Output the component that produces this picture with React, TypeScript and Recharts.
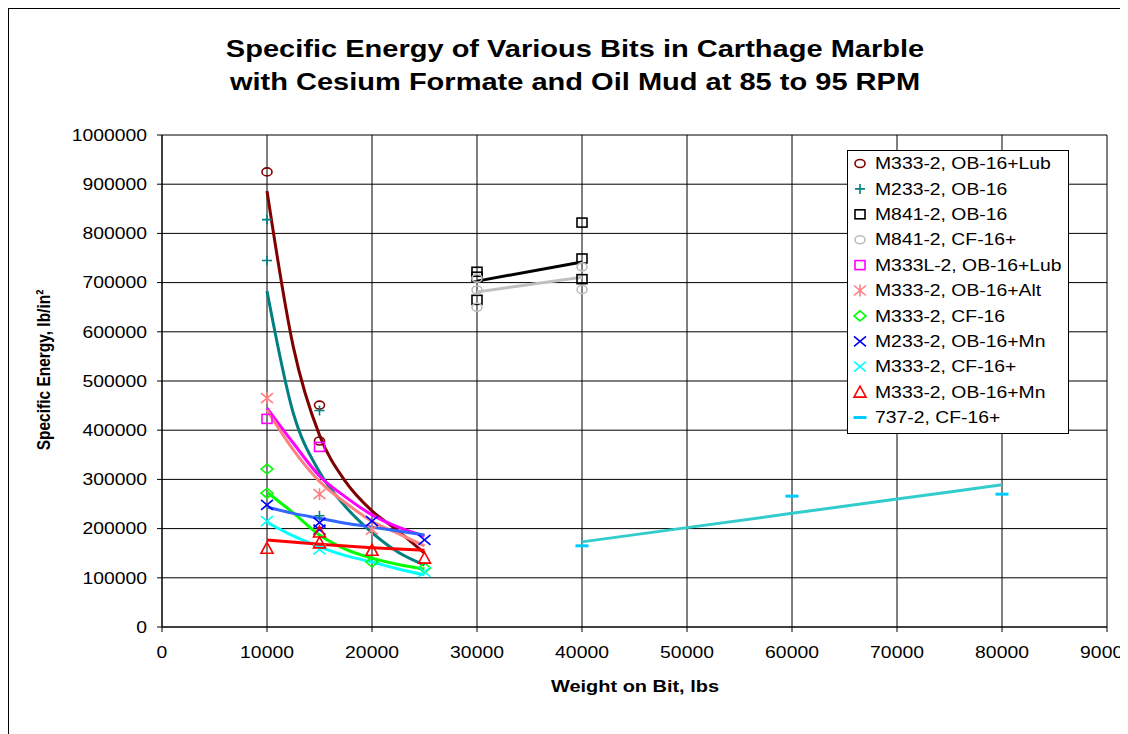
import {
    ComposedChart,
    Line,
    Scatter,
    XAxis,
    YAxis,
    CartesianGrid,
    Legend,
} from "recharts";

const FONT = '"Liberation Sans", Arial, sans-serif';
const SX = 1.21; // the picture is a bit wider than tall, text too

const xTicks = [0, 10000, 20000, 30000, 40000, 50000, 60000, 70000, 80000, 90000];
const yTicks = [0, 100000, 200000, 300000, 400000, 500000, 600000, 700000, 800000, 900000, 1000000];

// measured points (weight on bit, specific energy)
const m333LubPts = [
    { x: 10000, y: 925000 }, { x: 15000, y: 451000 }, { x: 15000, y: 378000 },
];
const m233Pts = [
    { x: 10000, y: 828000 }, { x: 10000, y: 745000 }, { x: 15000, y: 440000 }, { x: 15000, y: 226000 },
];
const m841ObPts = [
    { x: 30000, y: 722000 }, { x: 30000, y: 712000 }, { x: 30000, y: 665000 },
    { x: 40000, y: 822000 }, { x: 40000, y: 749000 }, { x: 40000, y: 707000 },
];
const m841CfPts = [
    { x: 30000, y: 709000 }, { x: 30000, y: 685000 }, { x: 30000, y: 650000 },
    { x: 40000, y: 732000 }, { x: 40000, y: 686000 },
];
const m333LPts = [
    { x: 10000, y: 423000 }, { x: 15000, y: 366000 },
];
const m333AltPts = [
    { x: 10000, y: 465000 }, { x: 15000, y: 270000 }, { x: 20000, y: 198000 },
];
const m333CfPts = [
    { x: 10000, y: 321000 }, { x: 10000, y: 272000 }, { x: 20000, y: 132000 }, { x: 25000, y: 120000 },
];
const m233MnPts = [
    { x: 10000, y: 248000 }, { x: 15000, y: 212000 }, { x: 15000, y: 198000 },
    { x: 20000, y: 215000 }, { x: 25000, y: 177000 },
];
const m333CfpPts = [
    { x: 10000, y: 215000 }, { x: 15000, y: 158000 }, { x: 25000, y: 112000 },
];
const m333MnPts = [
    { x: 10000, y: 160000 }, { x: 15000, y: 193000 }, { x: 15000, y: 171000 },
    { x: 20000, y: 156000 }, { x: 25000, y: 140000 },
];
const b737Pts = [
    { x: 40000, y: 165000 }, { x: 60000, y: 266000 }, { x: 80000, y: 270000 },
];

// trendlines
const m333LubFit = [
    { x: 10000, y: 886000 }, { x: 12500, y: 570000 }, { x: 15000, y: 390000 }, { x: 17500, y: 295000 },
    { x: 20000, y: 236000 }, { x: 22500, y: 195000 }, { x: 25000, y: 150000 },
];
const m233Fit = [
    { x: 10000, y: 683000 }, { x: 12500, y: 435000 }, { x: 15000, y: 315000 }, { x: 17500, y: 244000 },
    { x: 20000, y: 192000 }, { x: 22500, y: 152000 }, { x: 25000, y: 126000 },
];
const m841ObFit = [{ x: 30000, y: 703000 }, { x: 40000, y: 742000 }];
const m841CfFit = [{ x: 30000, y: 681000 }, { x: 40000, y: 711000 }];
const m333LFit = [
    { x: 10000, y: 445000 }, { x: 12500, y: 374000 }, { x: 15000, y: 307000 }, { x: 17500, y: 264000 },
    { x: 20000, y: 228000 }, { x: 22500, y: 203000 }, { x: 25000, y: 185000 },
];
const m333AltFit = [
    { x: 10000, y: 441000 }, { x: 12500, y: 360000 }, { x: 15000, y: 296000 }, { x: 17500, y: 252000 },
    { x: 20000, y: 215000 }, { x: 22500, y: 190000 }, { x: 25000, y: 165000 },
];
const m333CfFit = [
    { x: 10000, y: 274000 }, { x: 12500, y: 232000 }, { x: 15000, y: 187000 }, { x: 17500, y: 158000 },
    { x: 20000, y: 140000 }, { x: 22500, y: 127000 }, { x: 25000, y: 118000 },
];
const m233MnFit = [
    { x: 10000, y: 244000 }, { x: 12500, y: 231000 }, { x: 15000, y: 221000 }, { x: 17500, y: 211000 },
    { x: 20000, y: 203000 }, { x: 22500, y: 195000 }, { x: 25000, y: 187000 },
];
const m333CfpFit = [
    { x: 10000, y: 213000 }, { x: 12500, y: 185000 }, { x: 15000, y: 163000 }, { x: 17500, y: 145000 },
    { x: 20000, y: 132000 }, { x: 22500, y: 118000 }, { x: 25000, y: 106000 },
];
const m333MnFit = [
    { x: 10000, y: 177000 }, { x: 15000, y: 168000 }, { x: 20000, y: 161000 }, { x: 25000, y: 156000 },
];
const b737Fit = [
    { x: 40000, y: 173000 }, { x: 50000, y: 202000 }, { x: 60000, y: 231000 },
    { x: 70000, y: 260000 }, { x: 80000, y: 289000 },
];

const series = [
    { name: "M333-2, OB-16+Lub", marker: "circle", color: "#800000", line: "#800000", pts: m333LubPts, fit: m333LubFit },
    { name: "M233-2, OB-16", marker: "plus", color: "#008080", line: "#008080", pts: m233Pts, fit: m233Fit },
    { name: "M841-2, OB-16", marker: "square", color: "#000000", line: "#000000", pts: m841ObPts, fit: m841ObFit },
    { name: "M841-2, CF-16+", marker: "circle", color: "#BDBDBD", line: "#C0C0C0", pts: m841CfPts, fit: m841CfFit },
    { name: "M333L-2, OB-16+Lub", marker: "square", color: "#FF00FF", line: "#FF00FF", pts: m333LPts, fit: m333LFit },
    { name: "M333-2, OB-16+Alt", marker: "star", color: "#FF8080", line: "#FF8080", pts: m333AltPts, fit: m333AltFit },
    { name: "M333-2, CF-16", marker: "diamond", color: "#00FF00", line: "#00FF00", pts: m333CfPts, fit: m333CfFit },
    { name: "M233-2, OB-16+Mn", marker: "x", color: "#0000FF", line: "#3366FF", pts: m233MnPts, fit: m233MnFit },
    { name: "M333-2, CF-16+", marker: "x", color: "#00FFFF", line: "#00FFFF", pts: m333CfpPts, fit: m333CfpFit },
    { name: "M333-2, OB-16+Mn", marker: "triangle", color: "#FF0000", line: "#FF0000", pts: m333MnPts, fit: m333MnFit },
    { name: "737-2, CF-16+", marker: "dash", color: "#00CCFF", line: "#33CCCC", pts: b737Pts, fit: b737Fit },
];

function Marker({ kind, color, cx, cy }: any) {
    const sw = 1.6;
    const common = { fill: "none", stroke: color, strokeWidth: sw };
    switch (kind) {
        case "circle":
            return <ellipse cx={cx} cy={cy} rx={5} ry={4} {...common} />;
        case "plus":
            return <path d={`M${cx - 5},${cy}H${cx + 5}M${cx},${cy - 5}V${cy + 5}`} {...common} />;
        case "square":
            return <rect x={cx - 5} y={cy - 4.5} width={10} height={9} {...common} />;
        case "star":
            return <path d={`M${cx - 6},${cy - 5}L${cx + 6},${cy + 5}M${cx - 6},${cy + 5}L${cx + 6},${cy - 5}M${cx},${cy - 6}V${cy + 6}`} {...common} />;
        case "diamond":
            return <path d={`M${cx - 6},${cy}L${cx},${cy - 5}L${cx + 6},${cy}L${cx},${cy + 5}Z`} {...common} />;
        case "x":
            return <path d={`M${cx - 6},${cy - 5}L${cx + 6},${cy + 5}M${cx - 6},${cy + 5}L${cx + 6},${cy - 5}`} {...common} />;
        case "triangle":
            return <path d={`M${cx},${cy - 6}L${cx + 6},${cy + 5}L${cx - 6},${cy + 5}Z`} {...common} />;
        case "dash":
            return <rect x={cx - 6.5} y={cy - 1.5} width={13} height={3} fill={color} />;
    }
    return null;
}

// stretched text, like the picture
function SText({ x, y, anchor = "start", size = 16, bold = false, rotate = 0, children }: any) {
    return (
        <text
            transform={`translate(${x},${y}) scale(${SX},1)${rotate ? ` rotate(${rotate})` : ""}`}
            textAnchor={anchor}
            fontFamily={FONT}
            fontSize={size}
            fontWeight={bold ? "bold" : "normal"}
            fill="#000"
        >
            {children}
        </text>
    );
}

const YTick = ({ x, y, payload }: any) => (
    <g>
        <SText x={x - 8} y={y + 5.7} anchor="end">{payload.value}</SText>
    </g>
);

const XTick = ({ x, y, payload }: any) => (
    <g>
        <SText x={x} y={y + 24} anchor="middle">{payload.value}</SText>
    </g>
);

const renderLegend = () => (
    <svg width={222} height={284} style={{ display: "block" }}>
        <rect x={0.5} y={0.5} width={221} height={283} fill="#fff" stroke="#000" />
        {series.map((s, i) => {
            const cy = 13.5 + i * 25.4;
            return (
                <g key={s.name}>
                    <Marker kind={s.marker} color={s.color} cx={13} cy={cy} />
                    <SText x={28} y={cy + 5.7}>{s.name}</SText>
                </g>
            );
        })}
    </svg>
);

export default function App() {
    // the frame runs past the right and bottom edge in the picture,
    // so only its top and left sides show
    return (
        <div
            style={{
                position: "relative",
                width: 1119,
                height: 725,
                borderTop: "1px solid #000",
                borderLeft: "1px solid #000",
                background: "#fff",
                overflow: "hidden",
            }}
        >
            <style>{"html,body{overflow:hidden}"}</style>
            <ComposedChart
                width={1119}
                height={725}
                margin={{ top: 126, right: 21, bottom: 67, left: 73 }}
            >
                <CartesianGrid stroke="#000" strokeWidth={1} />
                <XAxis
                    type="number"
                    dataKey="x"
                    domain={[0, 90000]}
                    ticks={xTicks}
                    interval={0}
                    height={40}
                    stroke="#000"
                    tickSize={5}
                    tick={<XTick />}
                    allowDataOverflow
                />
                <YAxis
                    type="number"
                    dataKey="y"
                    domain={[0, 1000000]}
                    ticks={yTicks}
                    interval={0}
                    width={80}
                    stroke="#000"
                    tickSize={5}
                    tick={<YTick />}
                    allowDataOverflow
                />

                {series.map((s) => (
                    <Line
                        key={"fit-" + s.name}
                        data={s.fit}
                        dataKey="y"
                        type="monotone"
                        stroke={s.line}
                        strokeWidth={3}
                        dot={false}
                        activeDot={false}
                        legendType="none"
                        isAnimationActive={false}
                    />
                ))}
                {series.map((s) => (
                    <Scatter
                        key={"pts-" + s.name}
                        name={s.name}
                        data={s.pts}
                        dataKey="y"
                        fill={s.color}
                        shape={(p: any) => <Marker kind={s.marker} color={s.color} cx={p.cx} cy={p.cy} />}
                        isAnimationActive={false}
                    />
                ))}

                <Legend
                    layout="vertical"
                    align="center"
                    verticalAlign="middle"
                    content={renderLegend}
                    wrapperStyle={{ left: 838, top: 141, width: 222, height: 284 }}
                />

                {/* title and axis titles */}
                <SText x={566} y={48} anchor="middle" size={24} bold>
                    Specific Energy of Various Bits in Carthage Marble
                </SText>
                <SText x={566} y={81} anchor="middle" size={24} bold>
                    with Cesium Formate and Oil Mud at 85 to 95 RPM
                </SText>
                <SText x={626} y={683} anchor="middle" size={16.5} bold>
                    Weight on Bit, lbs
                </SText>
                <SText x={41} y={361} anchor="middle" size={15.5} bold rotate={-90}>
                    Specific Energy, lb/in²
                </SText>
            </ComposedChart>
        </div>
    );
}
